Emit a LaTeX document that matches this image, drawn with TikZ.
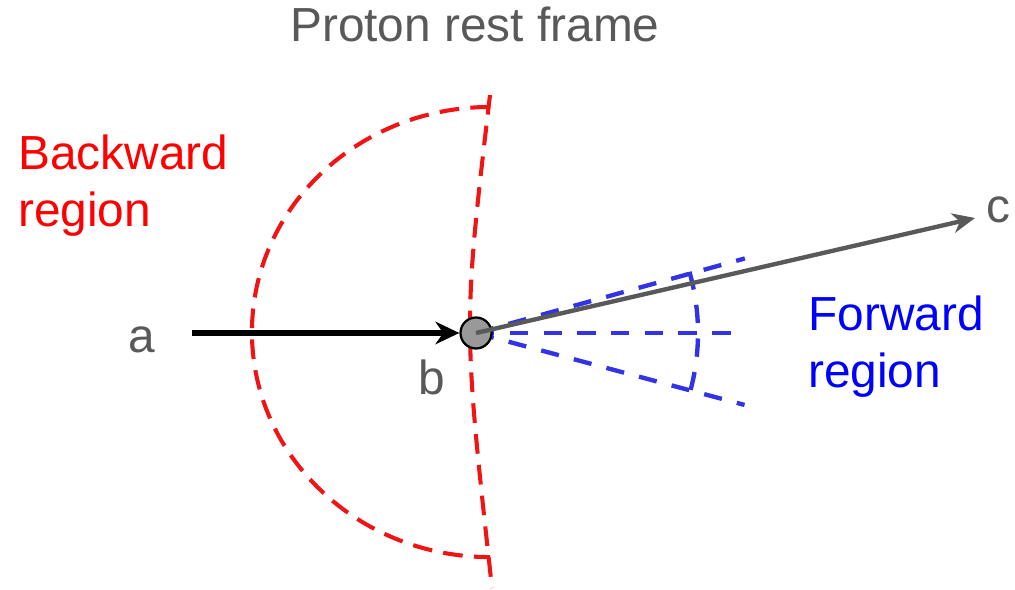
\documentclass[tikz,border=0pt]{standalone}
\usepackage{fontspec}
\setmainfont{Liberation Sans}
\usetikzlibrary{arrows.meta}
\definecolor{figred}{HTML}{F01414}
\definecolor{figblue}{HTML}{3232E6}
\definecolor{figtextred}{HTML}{FF0000}
\definecolor{figtextblue}{HTML}{0000FF}
\definecolor{figgray}{HTML}{595959}
\definecolor{figdot}{HTML}{999999}
\begin{document}
\begin{tikzpicture}[x=0.025cm,y=0.025cm,every node/.style={font=\fontsize{34}{40}\selectfont,inner sep=0pt},
  backdash/.style={figred,line width=2.9pt,dash pattern=on 14pt off 8pt},
  fwddash/.style={figblue,line width=3.1pt,dash pattern=on 13pt off 11pt}]
\useasboundingbox (0,0) rectangle (1015,590);
\draw[backdash] (490,483) arc[start angle=90,end angle=270,x radius=5.95cm,y radius=5.625cm];
\draw[backdash] (490,495) .. controls (463,265) .. (492,2);
\draw[fwddash] (476,257) -- ++(15.5:279);
\draw[fwddash] (476,257) -- ++(0:262);
\draw[fwddash] (476,257) -- ++(-15:278);
\draw[fwddash] (476,257) ++(16:222) arc[start angle=16,end angle=-16,radius=5.55cm];
\node[text=figgray,anchor=base west] (title) at (290,548) {Proton rest frame};
\node[text=figtextred,anchor=north west,align=left] (backlabel) at (18,455) {Backward\\region};
\node[text=figtextblue,anchor=north west,align=left] (fwdlabel) at (808,294) {Forward\\region};
\node[text=figgray,anchor=base west] (alabel) at (128,237) {a};
\node[text=figgray,anchor=base west] (blabel) at (418,195) {b};
\node[text=figgray,anchor=base west] (clabel) at (986,367) {c};
\node[circle,draw=black,line width=1.6pt,fill=figdot,minimum size=0.775cm] (proton) at (476,257) {};
\coordinate (astart) at (192,257);
\coordinate (ctip) at (975,372);
\draw[black,line width=4.2pt,-{Stealth[length=17pt,width=16pt]}] (astart) -- (proton);
\draw[figgray,line width=3.1pt,-{Stealth[length=16pt,width=14pt,inset=5pt]}] (proton.center) -- (ctip);
\end{tikzpicture}
\end{document}
